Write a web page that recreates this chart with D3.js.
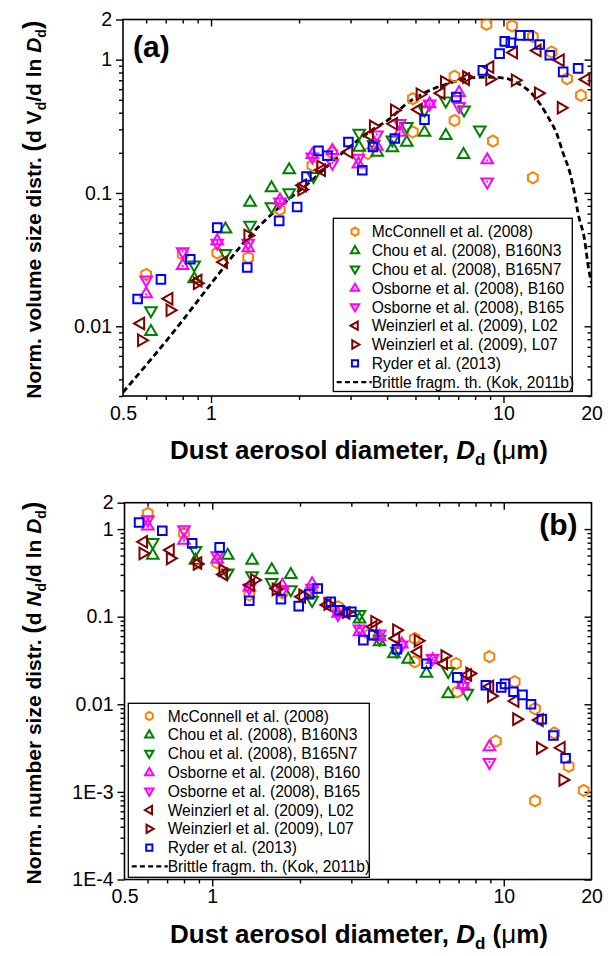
<!DOCTYPE html>
<html><head><meta charset="utf-8">
<script src="https://cdn.jsdelivr.net/npm/d3@7"></script>
<style>
body{margin:0;background:#fff}
svg{display:block}
text{font-family:Arial,"Liberation Sans",sans-serif}
</style>
</head><body>
<svg id="chart" width="614" height="956"></svg>
<script>
// ---------------- DATA ----------------
const seriesNames = ["McConnell et al. (2008)", "Chou et al. (2008), B160N3", "Chou et al. (2008), B165N7",
  "Osborne et al. (2008), B160", "Osborne et al. (2008), B165", "Weinzierl et al. (2009), L02",
  "Weinzierl et al. (2009), L07", "Ryder et al. (2013)"];
const seriesColors = ["#FF8000", "#008000", "#008000", "#FF00FF", "#FF00FF", "#800000", "#800000", "#0000FF"];
const seriesShapes = ["hex", "up", "down", "upDot", "downDot", "left", "right", "square"];
const theoryName = "Brittle fragm. th. (Kok, 2011b)";

// Panel (a): [diameter um, normalized dV/dlnD]
const volMcConnell = [[0.60,0.0245],[0.80,0.0347],[1.05,0.0355],[1.34,0.0328],[1.72,0.075],[2.22,0.161],[2.6,0.2],[3.44,0.198],[4.9,0.51],[4.9,0.287],[6.8,0.75],[6.8,0.35],[8.75,1.84],[9.2,0.245],[10.7,1.79],[12.6,1.49],[12.6,0.13],[14.6,1.14],[16.5,0.72],[18.4,0.54]];
const volChouN3 = [[0.623,0.0092],[0.876,0.0228],[1.12,0.054],[1.36,0.0856],[1.61,0.11],[1.85,0.15],[3.21,0.221],[3.7,0.203],[4.17,0.219],[4.67,0.241],[5.37,0.287],[6.35,0.271],[7.3,0.195]];
const volChouN7 = [[0.623,0.013],[0.876,0.0287],[1.12,0.035],[1.36,0.057],[1.61,0.0785],[1.85,0.1],[2.24,0.132],[3.21,0.279],[3.6,0.23],[4.17,0.248],[4.67,0.313],[5.37,0.417],[6.35,0.487],[7.33,0.417],[8.3,0.295]];
const volOsborne160 = [[0.6,0.0176],[0.8,0.0287],[1.05,0.044],[1.34,0.039],[1.72,0.089],[2.22,0.195],[2.6,0.209],[3.19,0.166],[3.69,0.225],[4.42,0.287],[5.59,0.469],[7.05,0.57],[8.8,0.178]];
const volOsborne165 = [[0.6,0.0221],[0.8,0.036],[1.05,0.0417],[1.34,0.0417],[1.72,0.085],[2.22,0.185],[2.6,0.166],[3.19,0.181],[3.69,0.271],[4.42,0.33],[5.59,0.463],[7.05,0.442],[8.8,0.12]];
const volWeinL02 = [[0.573,0.0105],[0.716,0.0161],[0.9,0.022],[1.1,0.0303],[2.05,0.114],[2.38,0.148],[2.95,0.203],[3.47,0.271],[4.2,0.33],[5.1,0.422],[6.1,0.56],[7.4,0.714],[8.96,0.88],[10.8,1.13],[13.0,1.17],[15.6,0.99],[19.1,0.71]];
const volWeinL07 = [[0.58,0.00785],[0.726,0.0132],[0.9,0.021],[1.34,0.048],[2.05,0.106],[2.38,0.158],[3.6,0.316],[4.25,0.417],[5.2,0.55],[6.3,0.68],[7.5,0.74],[9.0,0.714],[11.0,0.70],[13.2,0.56],[15.8,0.435]];
const volRyder = [[0.561,0.016],[0.674,0.0225],[0.849,0.0318],[1.05,0.055],[1.33,0.0276],[1.71,0.0617],[1.97,0.0785],[2.12,0.133],[2.33,0.207],[2.5,0.19],[2.95,0.241],[3.29,0.148],[3.58,0.221],[4.25,0.256],[5.37,0.355],[6.9,0.525],[8.5,0.83],[9.7,1.11],[10.1,1.37],[10.6,1.34],[11.4,1.52],[12.2,1.52],[13.3,1.30],[14.4,1.08],[16.0,0.81],[18.0,0.86]];
// theory curve (panel a)
const theoryD = [0.5, 0.785, 1.0, 1.36, 1.745, 2.18, 2.7, 3.54, 4.09, 4.67, 5.32, 6.06, 6.91, 7.88, 8.75, 9.72, 10.5, 11.5, 12.5, 13.3, 14.2, 15.2, 16.0, 16.9, 17.5, 18.0, 18.96, 19.5, 20];
const theoryV = [0.0032, 0.0105, 0.0209, 0.048, 0.081, 0.121, 0.185, 0.295, 0.361, 0.469, 0.557, 0.631, 0.689, 0.733, 0.74, 0.733, 0.71, 0.643, 0.557, 0.469, 0.372, 0.279, 0.198, 0.140, 0.099, 0.070, 0.044, 0.028, 0.021];

// Panel (b): [diameter um, normalized dN/dlnD]
const numMcConnell = [[0.601,1.51],[0.8,0.893],[1.04,0.413],[1.34,0.177],[1.74,0.187],[2.2,0.187],[2.7,0.13],[3.47,0.0632],[4.95,0.0565],[4.95,0.0306],[6.86,0.0292],[6.93,0.0139],[8.93,0.035],[9.4,0.0038],[10.9,0.0181],[12.8,0.0089],[12.8,0.00079],[14.9,0.0047],[16.7,0.00196],[18.8,0.00104]];
const numChouN3 = [[0.625,0.505],[0.876,0.443],[1.13,0.505],[1.37,0.443],[1.6,0.347],[1.86,0.306],[3.2,0.095],[3.75,0.052],[4.2,0.038],[4.7,0.033],[5.43,0.0228],[6.45,0.0133]];
const numChouN7 = [[0.625,0.698],[0.876,0.565],[1.13,0.312],[1.37,0.29],[1.6,0.244],[1.86,0.201],[2.2,0.152],[3.2,0.105],[3.75,0.055],[4.3,0.04],[6.45,0.0235],[7.5,0.0133]];
const numOsborne160 = [[0.601,1.09],[0.8,0.749],[1.04,0.46],[1.34,0.22],[1.74,0.23],[2.2,0.24],[2.7,0.11],[3.2,0.068],[3.75,0.06],[4.47,0.049],[5.7,0.0326],[7.25,0.017],[8.93,0.0033]];
const numOsborne165 = [[0.601,1.27],[0.8,0.974],[1.04,0.492],[1.34,0.21],[1.74,0.2],[2.2,0.21],[2.7,0.105],[3.2,0.072],[3.75,0.063],[4.47,0.047],[5.7,0.033],[7.25,0.0159],[8.93,0.00215]];
const numWeinL02 = [[0.58,0.716],[0.716,0.576],[0.89,0.41],[1.09,0.304],[1.35,0.23],[1.66,0.21],[2.02,0.169],[2.47,0.136],[2.87,0.11],[3.55,0.0767],[4.25,0.0565],[5.06,0.0397],[6.2,0.0292],[7.5,0.0216],[8.93,0.0159],[10.9,0.0109],[13.2,0.0066],[15.7,0.00319]];
const numWeinL07 = [[0.58,0.527],[0.72,0.463],[0.89,0.4],[1.09,0.34],[1.4,0.262],[1.66,0.205],[2.05,0.175],[2.5,0.14],[2.9,0.113],[3.62,0.0876],[4.3,0.0701],[5.1,0.0531],[6.3,0.0355],[7.67,0.0225],[9.1,0.0124],[11.1,0.00677],[13.4,0.00316],[16.0,0.00137]];
const numRyder = [[0.561,1.19],[0.674,0.956],[0.853,0.687],[1.06,0.618],[1.34,0.152],[1.72,0.158],[1.98,0.132],[2.15,0.181],[2.3,0.21],[2.55,0.148],[2.74,0.118],[3.0,0.114],[3.3,0.054],[3.57,0.0616],[4.3,0.0424],[5.43,0.029],[6.93,0.0203],[8.68,0.0165],[9.8,0.0156],[10.1,0.0171],[10.8,0.0139],[11.6,0.0128],[12.4,0.01],[13.5,0.00677],[14.8,0.0044],[16.3,0.00242]];

// Axis ticks
const xTickValues = [0.5, 1, 10, 20];
const xTickLabels = ["0.5", "1", "10", "20"];
const yTickValuesA = [0.01, 0.1, 1, 2];
const yTickLabelsA = ["0.01", "0.1", "1", "2"];
const yTickValuesB = [1e-4, 1e-3, 0.01, 0.1, 1, 2];
const yTickLabelsB = ["1E-4", "1E-3", "0.01", "0.1", "1", "2"];

// ---------------- DRAWING ----------------
const svg = d3.select("#chart");
const FONT = 'Arial, "Liberation Sans", sans-serif';

function shapePath(shape, s) {
  s = s || 1;
  if (shape === "hex") {
    const r = 5.6 * s; const p = [];
    for (let k = 0; k < 6; k++) { const a = (-90 + 60 * k) * Math.PI / 180; p.push([r * Math.cos(a), r * Math.sin(a)]); }
    return "M" + p.map(q => q[0].toFixed(2) + "," + q[1].toFixed(2)).join("L") + "Z";
  }
  if (shape === "up" || shape === "upDot") return `M0,${-6.2*s}L${5.8*s},${3.8*s}L${-5.8*s},${3.8*s}Z`;
  if (shape === "down" || shape === "downDot") return `M0,${6.2*s}L${5.8*s},${-3.8*s}L${-5.8*s},${-3.8*s}Z`;
  if (shape === "left") return `M${-6.2*s},0L${3.8*s},${-5.8*s}L${3.8*s},${5.8*s}Z`;
  if (shape === "right") return `M${6.2*s},0L${-3.8*s},${-5.8*s}L${-3.8*s},${5.8*s}Z`;
  if (shape === "square") return `M${-4.3*s},${-4.3*s}h${8.6*s}v${8.6*s}h${-8.6*s}Z`;
}

function drawMarker(g, shape, color, x, y, s) {
  g.append("path").attr("d", shapePath(shape, s)).attr("transform", `translate(${x},${y})`)
    .attr("fill", "none").attr("stroke", color).attr("stroke-width", 2).attr("stroke-linejoin", "miter");
  if (shape === "upDot" || shape === "downDot") {
    g.append("circle").attr("cx", x).attr("cy", y + (shape === "upDot" ? 0.8 : -0.8) * (s || 1)).attr("r", 1.1 * (s || 1)).attr("fill", color);
  }
}

function isPow10(v) { const l = Math.log10(v); return Math.abs(l - Math.round(l)) < 1e-6; }

function panel(cfg) {
  const x = d3.scaleLog().domain([0.5, 20]).range([cfg.left, cfg.right]);
  const y = d3.scaleLog().domain(cfg.yDomain).range([cfg.bottom, cfg.top]);
  const g = svg.append("g");

  const xMinor = x.ticks().filter(v => !isPow10(v) && v > 0.5 + 1e-9 && v < 20 - 1e-9);
  const yMinor = y.ticks().filter(v => !isPow10(v) && v < cfg.yDomain[1] - 1e-9);

  function styleAxis(sel) {
    sel.select(".domain").remove();
    sel.selectAll("line").attr("stroke", "#000").attr("stroke-width", 1.4);
    sel.selectAll("text").attr("font-size", 19.5).attr("fill", "#000").attr("font-family", FONT);
  }
  const majX = [1, 10];
  // bottom
  g.append("g").attr("transform", `translate(0,${cfg.bottom})`)
    .call(d3.axisBottom(x).tickValues(xMinor).tickSize(4).tickFormat("")).call(styleAxis);
  g.append("g").attr("transform", `translate(0,${cfg.bottom})`)
    .call(d3.axisBottom(x).tickValues(xTickValues).tickSize(7).tickPadding(3)
      .tickFormat((d, i) => xTickLabels[i])).call(styleAxis)
    .selectAll(".tick line").attr("opacity", d => majX.includes(d) ? 1 : 0);
  // top
  g.append("g").attr("transform", `translate(0,${cfg.top})`)
    .call(d3.axisTop(x).tickValues(xMinor).tickSize(-4).tickFormat("")).call(styleAxis);
  g.append("g").attr("transform", `translate(0,${cfg.top})`)
    .call(d3.axisTop(x).tickValues(majX).tickSize(-7).tickFormat("")).call(styleAxis);
  // left
  g.append("g").attr("transform", `translate(${cfg.left},0)`)
    .call(d3.axisLeft(y).tickValues(yMinor).tickSize(4).tickFormat("")).call(styleAxis);
  g.append("g").attr("transform", `translate(${cfg.left},0)`)
    .call(d3.axisLeft(y).tickValues(cfg.yTicks).tickSize(7).tickPadding(4)
      .tickFormat((d, i) => cfg.yLabels[i])).call(styleAxis);
  // right
  g.append("g").attr("transform", `translate(${cfg.right},0)`)
    .call(d3.axisRight(y).tickValues(yMinor).tickSize(-4).tickFormat("")).call(styleAxis);
  g.append("g").attr("transform", `translate(${cfg.right},0)`)
    .call(d3.axisRight(y).tickValues(cfg.yTicks.filter(isPow10)).tickSize(-7).tickFormat("")).call(styleAxis);

  // frame
  g.append("rect").attr("x", cfg.left).attr("y", cfg.top)
    .attr("width", cfg.right - cfg.left).attr("height", cfg.bottom - cfg.top)
    .attr("fill", "none").attr("stroke", "#000").attr("stroke-width", 1.6);

  // clip for data
  const clipId = "clip" + cfg.id;
  svg.append("clipPath").attr("id", clipId).append("rect")
    .attr("x", cfg.left).attr("y", cfg.top).attr("width", cfg.right - cfg.left).attr("height", cfg.bottom - cfg.top);
  const dg = g.append("g").attr("clip-path", `url(#${clipId})`);

  if (cfg.theory) {
    const pts = theoryD.map((d, i) => [d, theoryV[i]]);
    dg.append("path").datum(pts)
      .attr("d", d3.line().x(d => x(d[0])).y(d => y(d[1])).curve(d3.curveMonotoneX))
      .attr("fill", "none").attr("stroke", "#000").attr("stroke-width", 2.8).attr("stroke-dasharray", "6,3.5");
  }
  cfg.series.forEach((data, si) => {
    data.forEach(p => drawMarker(dg, seriesShapes[si], seriesColors[si], x(p[0]), y(p[1]), 1));
  });

  // legend
  const L = cfg.legend;
  const lg = g.append("g");
  lg.append("rect").attr("x", L.x0).attr("y", L.y0).attr("width", L.x1 - L.x0).attr("height", L.y1 - L.y0)
    .attr("fill", "#fff").attr("stroke", "#000").attr("stroke-width", 1.3);
  seriesNames.forEach((name, i) => {
    const ry = L.row0 + i * L.dy;
    drawMarker(lg, seriesShapes[i], seriesColors[i], L.mx, ry, 0.72);
    lg.append("text").attr("x", L.tx).attr("y", ry + 5.6).attr("font-size", 15.6).text(name);
  });
  const ry = L.row0 + 8 * L.dy;
  lg.append("line").attr("x1", L.lx0).attr("x2", L.tx).attr("y1", ry).attr("y2", ry)
    .attr("stroke", "#000").attr("stroke-width", 2.4).attr("stroke-dasharray", "5,3.2");
  lg.append("text").attr("x", L.tx).attr("y", ry + 5.6).attr("font-size", 15.6).text(theoryName);

  // panel label
  g.append("text").attr("x", cfg.labelX).attr("y", cfg.labelY).attr("font-size", 30)
    .attr("font-weight", "bold").text(cfg.label);

  // x title
  const xt = g.append("text").attr("x", 359).attr("y", cfg.bottom + 63)
    .attr("text-anchor", "middle").attr("font-size", 26).attr("font-weight", "bold");
  xt.append("tspan").text("Dust aerosol diameter, ");
  xt.append("tspan").attr("font-style", "italic").text("D");
  xt.append("tspan").attr("font-size", 17).attr("dy", 6).text("d");
  xt.append("tspan").attr("dy", -6).text(" (");
  xt.append("tspan").attr("font-weight", "normal").text("\u03bc");
  xt.append("tspan").text("m)");

  // y title
  const yt = g.append("text").attr("transform", `translate(41,${(cfg.top + cfg.bottom) / 2 + 2}) rotate(-90)`)
    .attr("text-anchor", "middle").attr("font-size", 21).attr("font-weight", "bold");
  yt.append("tspan").text(cfg.yTitle + " ");
  yt.append("tspan").attr("font-size", 25).text("(");
  yt.append("tspan").text("d ");
  yt.append("tspan").attr("font-style", cfg.yVarItalic ? "italic" : "normal").text(cfg.yVar);
  yt.append("tspan").attr("font-size", 14).attr("dy", 5).text("d");
  yt.append("tspan").attr("dy", -5).text("/d ln ");
  yt.append("tspan").attr("font-style", "italic").text("D");
  yt.append("tspan").attr("font-size", 14).attr("dy", 5).text("d");
  yt.append("tspan").attr("dy", -5).attr("font-size", 25).text(")");
}

panel({
  id: "a", left: 123, right: 591.5, top: 19.5, bottom: 396, yDomain: [0.003, 2],
  yTicks: yTickValuesA, yLabels: yTickLabelsA, theory: true,
  series: [volMcConnell, volChouN3, volChouN7, volOsborne160, volOsborne165, volWeinL02, volWeinL07, volRyder],
  legend: { x0: 333.3, x1: 572.3, y0: 218.3, y1: 391.5, row0: 231.7, dy: 18.8, mx: 355, tx: 371.7, lx0: 336.7 },
  label: "(a)", labelX: 133, labelY: 56.5,
  yTitle: "Norm. volume size distr.", yVar: "V", yVarItalic: false
});

panel({
  id: "b", left: 124.5, right: 591.5, top: 502.7, bottom: 879.5, yDomain: [1e-4, 2],
  yTicks: yTickValuesB, yLabels: yTickLabelsB, theory: false,
  series: [numMcConnell, numChouN3, numChouN7, numOsborne160, numOsborne165, numWeinL02, numWeinL07, numRyder],
  legend: { x0: 128.3, x1: 369.3, y0: 703.3, y1: 877.3, row0: 716, dy: 18.8, mx: 149.3, tx: 167.7, lx0: 131.7 },
  label: "(b)", labelX: 539.3, labelY: 535.4,
  yTitle: "Norm. number size distr.", yVar: "N", yVarItalic: true
});
</script>
</body></html>
